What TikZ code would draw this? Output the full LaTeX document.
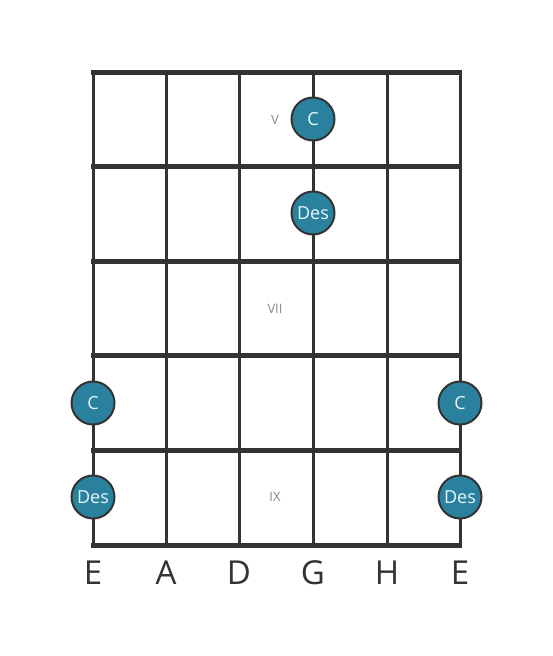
\documentclass[tikz,border=0pt]{standalone}
\usepackage{fontspec}
\setmainfont{Open Sans}
\usetikzlibrary{positioning}
\definecolor{gridgray}{HTML}{333333}
\definecolor{notefill}{HTML}{2A819E}
\definecolor{notetext}{HTML}{E6F6FA}
\definecolor{fretlabel}{HTML}{8A8A8A}
\tikzset{
  stringline/.style={draw=gridgray, line width=3pt},
  fretline/.style={draw=gridgray, line width=5pt},
  notedot/.style={circle, draw=gridgray, line width=2pt, fill=notefill, minimum size=43pt, inner sep=0pt, text=notetext, font=\fontsize{18}{18}\selectfont},
  stringname/.style={text=gridgray, font=\fontsize{33}{33}\selectfont},
  fretnum/.style={text=fretlabel, font=\fontsize{13}{13}\selectfont}
}
\begin{document}
\begin{tikzpicture}[x=1pt, y=-1pt]
\useasboundingbox (0,0) rectangle (553,656);
% Strings
\foreach \i/\x/\name in {1/93/E, 2/166/A, 3/239/D, 4/313/G, 5/387/H, 6/460/E} {
  \coordinate (top\i) at (\x,72);
  \coordinate (bot\i) at (\x,545);
  \draw[stringline] (top\i) -- (bot\i);
  \node[stringname] (name\i) at (\x,573) {\name};
}
% Frets
\foreach \j/\y in {0/72, 1/166, 2/261, 3/355, 4/450, 5/545} {
  \coordinate (fl\j) at (91,\y);
  \coordinate (fr\j) at (462,\y);
  \draw[fretline] (fl\j) -- (fr\j);
}
% Fret numbers
\node[fretnum] (five) at (275,120) {V};
\node[fretnum] (seven) at (275,309) {VII};
\node[fretnum] (nine) at (275,497) {IX};
% Notes
\node[notedot] (c1) at (313,119) {C};
\node[notedot] (des1) at (313,213) {Des};
\node[notedot] (c2) at (93,403) {C};
\node[notedot] (c3) at (460,403) {C};
\node[notedot] (des2) at (93,497) {Des};
\node[notedot] (des3) at (460,497) {Des};
\end{tikzpicture}
\end{document}
